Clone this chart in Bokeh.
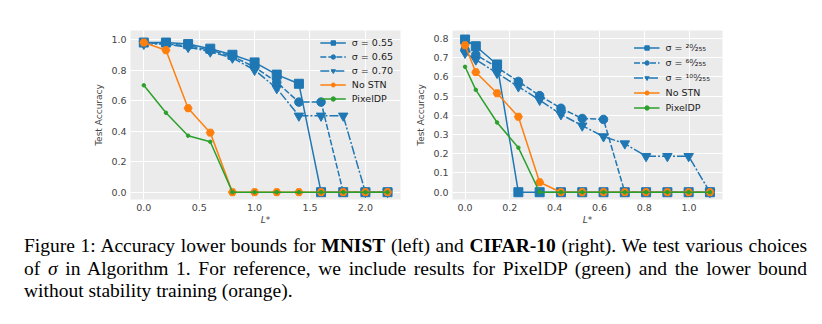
from bokeh.plotting import figure
from bokeh.models import Div, Legend, LegendItem, FixedTicker, NumeralTickFormatter, Range1d
from bokeh.layouts import row, column
from bokeh.embed import file_html
from bokeh.resources import INLINE

# ---- data: MNIST (left) ----
mnist_x = [0.0, 0.2, 0.4, 0.6, 0.8, 1.0, 1.2, 1.4, 1.6, 1.8, 2.0, 2.2]
mnist_s055 = [0.98, 0.98, 0.97, 0.94, 0.90, 0.85, 0.77, 0.71, 0.0, 0.0, 0.0, 0.0]
mnist_s065 = [0.98, 0.97, 0.96, 0.93, 0.89, 0.82, 0.72, 0.59, 0.59, 0.0, 0.0, 0.0]
mnist_s070 = [0.97, 0.97, 0.95, 0.92, 0.88, 0.80, 0.68, 0.50, 0.50, 0.50, 0.0, 0.0]
mnist_nostn = [0.98, 0.93, 0.55, 0.39, 0.0, 0.0, 0.0, 0.0, 0.0, 0.0, 0.0, 0.0]
mnist_pixeldp = [0.70, 0.52, 0.37, 0.33, 0.0, 0.0, 0.0, 0.0, 0.0, 0.0, 0.0, 0.0]
mnist_labels = ["σ = 0.55", "σ = 0.65", "σ = 0.70", "No STN", "PixelDP"]
mnist_xticks = [0.0, 0.5, 1.0, 1.5, 2.0]
mnist_yticks = [0.0, 0.2, 0.4, 0.6, 0.8, 1.0]

# ---- data: CIFAR-10 (right) ----
cifar_x = [0.0, 0.048, 0.143, 0.238, 0.333, 0.428, 0.523, 0.618, 0.713, 0.808, 0.903, 0.998, 1.093]
cifar_s20 = [0.795, 0.76, 0.665, 0.0, 0.0, 0.0, 0.0, 0.0, 0.0, 0.0, 0.0, 0.0, 0.0]
cifar_s60 = [0.742, 0.716, 0.65, 0.577, 0.503, 0.437, 0.384, 0.379, 0.0, 0.0, 0.0, 0.0, 0.0]
cifar_s100 = [0.725, 0.69, 0.62, 0.55, 0.48, 0.405, 0.346, 0.29, 0.253, 0.187, 0.187, 0.187, 0.0]
cifar_nostn = [0.765, 0.625, 0.515, 0.393, 0.052, 0.0, 0.0, 0.0, 0.0, 0.0, 0.0, 0.0, 0.0]
cifar_pixeldp = [0.653, 0.533, 0.363, 0.232, 0.0, 0.0, 0.0, 0.0, 0.0, 0.0, 0.0, 0.0, 0.0]
cifar_labels = ["σ = ²⁰⁄₂₅₅", "σ = ⁶⁰⁄₂₅₅", "σ = ¹⁰⁰⁄₂₅₅", "No STN", "PixelDP"]
cifar_xticks = [0.0, 0.2, 0.4, 0.6, 0.8, 1.0]
cifar_yticks = [0.0, 0.1, 0.2, 0.3, 0.4, 0.5, 0.6, 0.7, 0.8]

BLUE = "#1f77b4"
ORANGE = "#ff7f0e"
GREEN = "#2ca02c"
FONT = "DejaVu Sans"


def make_plot(x, series, labels, xr, yr, xticks, yticks, width, left, right, legend_spacing, legend_margin):
    p = figure(width=width, height=227, output_backend="svg", toolbar_location=None,
               x_range=Range1d(*xr), y_range=Range1d(*yr),
               min_border_left=left, min_border_right=right, min_border_top=30,
               min_border_bottom=28)
    p.background_fill_color = "#EBEBEB"
    p.border_fill_color = "white"
    p.outline_line_color = None
    p.grid.grid_line_color = "white"
    p.grid.grid_line_width = 1
    for ax in (p.xaxis[0], p.yaxis[0]):
        ax.axis_line_color = None
        ax.major_tick_line_color = None
        ax.minor_tick_line_color = None
        ax.major_tick_out = 0
        ax.major_tick_in = 0
        ax.minor_tick_out = 0
        ax.minor_tick_in = 0
        ax.major_label_text_font = FONT
        ax.major_label_text_font_size = "9.5px"
        ax.major_label_text_color = "#444444"
        ax.axis_label_text_font = FONT
        ax.axis_label_text_font_size = "9px"
        ax.axis_label_text_color = "#444444"
        ax.axis_label_text_font_style = "normal"
        ax.major_label_standoff = 4
        ax.axis_label_standoff = 4
    p.xaxis.ticker = FixedTicker(ticks=xticks)
    p.yaxis.ticker = FixedTicker(ticks=yticks)
    p.xaxis.formatter = NumeralTickFormatter(format="0.0")
    p.yaxis.formatter = NumeralTickFormatter(format="0.0")
    p.xaxis.axis_label = "L*"
    p.xaxis.axis_label_text_font_style = "italic"
    p.xaxis.axis_label_standoff = 1
    p.yaxis.axis_label = "Test Accuracy"

    styles = [
        dict(color=BLUE, dash="solid", marker="square", size=9),
        dict(color=BLUE, dash="6 2", marker="circle", size=8.5),
        dict(color=BLUE, dash="9 2 2 2", marker="inverted_triangle", size=9.5),
        dict(color=ORANGE, dash="solid", marker="hex", size=8),
        dict(color=GREEN, dash="solid", marker="circle", size=3.5),
    ]
    items = []
    for ys, lab, st in zip(series, labels, styles):
        l = p.line(x, ys, line_color=st["color"], line_width=1.5, line_dash=st["dash"])
        s = p.scatter(x, ys, marker=st["marker"], size=st["size"], fill_color=st["color"],
                      line_color=st["color"])
        items.append(LegendItem(label=lab, renderers=[l, s]))
    leg = Legend(items=items, location="top_right")
    leg.background_fill_alpha = 0
    leg.border_line_alpha = 0
    leg.label_text_font = FONT
    leg.label_text_font_size = "9.5px"
    leg.label_text_color = "#222222"
    leg.glyph_width = 26
    leg.glyph_height = 11
    leg.label_height = 11
    leg.label_standoff = 6
    leg.spacing = legend_spacing
    leg.padding = 2
    leg.margin = legend_margin
    p.add_layout(leg)
    return p


p1 = make_plot(mnist_x, [mnist_s055, mnist_s065, mnist_s070, mnist_nostn, mnist_pixeldp],
               mnist_labels, (-0.12, 2.317), (-0.048, 1.059), mnist_xticks, mnist_yticks,
               width=412, left=130, right=12, legend_spacing=3, legend_margin=5)
p2 = make_plot(cifar_x, [cifar_s20, cifar_s60, cifar_s100, cifar_nostn, cifar_pixeldp],
               cifar_labels, (-0.056, 1.149), (-0.038, 0.842), cifar_xticks, cifar_yticks,
               width=400, left=40, right=90, legend_spacing=4, legend_margin=10)

caption_html = (
    '<div style="font-family: \'Liberation Serif\', serif; font-size: 19.5px; line-height: 22.5px; color: #000; width: 783px;">'
    '<div style="text-align: justify; text-align-last: justify;">Figure 1: Accuracy lower bounds for <b>MNIST</b> (left) and <b>CIFAR-10</b> (right). We test various choices</div>'
    '<div style="text-align: justify; text-align-last: justify;">of <i>σ</i> in Algorithm 1. For reference, we include results for PixelDP (green) and the lower bound</div>'
    '<div style="text-align: left;">without stability training (orange).</div>'
    '</div>'
)
cap = Div(text=caption_html, width=810, height=80, styles={"margin-left": "24px", "margin-top": "8px"})

layout = column(row(p1, p2), cap)
open("out.html", "w").write(file_html(layout, INLINE))
